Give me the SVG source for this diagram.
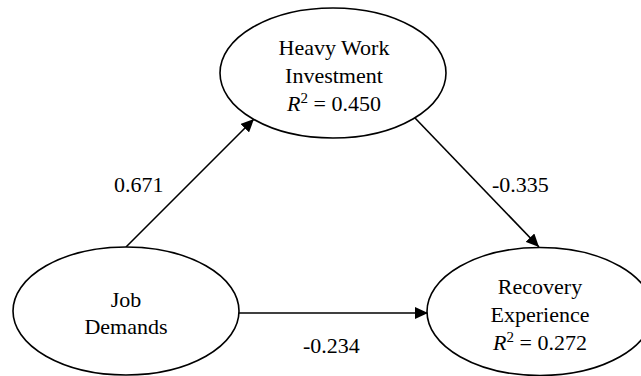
<svg xmlns="http://www.w3.org/2000/svg" width="641" height="376" viewBox="0 0 641 376">
<style>
.node ellipse{fill:#fff;stroke:#000;stroke-width:1.6}
text{font-family:'Liberation Serif','DejaVu Serif','Times New Roman',Times,serif;font-size:22px;fill:#000;text-anchor:middle}
.lbl{text-anchor:start}
.edge{stroke:#000;stroke-width:1.6;fill:none;marker-end:url(#ah)}
.it{font-style:italic}
.sup{font-size:15px}
</style>
<defs>
<marker id="ah" markerUnits="userSpaceOnUse" markerWidth="14" markerHeight="12" refX="13" refY="6" orient="auto">
<path d="M0,0 L13,6 L0,12 Z" fill="#000"/>
</marker>
</defs>
<rect width="641" height="376" fill="#fff"/>
<g id="connectors">
<line class="edge" x1="126" y1="247" x2="254" y2="119"/>
<line class="edge" x1="415" y1="118" x2="539" y2="247"/>
<line class="edge" x1="239" y1="313" x2="428" y2="313"/>
<text class="lbl" x="114" y="192">0.671</text>
<text class="lbl" x="492" y="192">-0.335</text>
<text class="lbl" x="303" y="353">-0.234</text>
</g>
<g id="hwi" class="node">
<ellipse cx="333" cy="73" rx="113" ry="65"/>
<text x="334" y="55">Heavy Work</text>
<text x="334" y="83">Investment</text>
<text x="334" y="111"><tspan class="it">R</tspan><tspan class="sup" dy="-8">2</tspan><tspan dy="8"> = 0.450</tspan></text>
</g>
<g id="jd" class="node">
<ellipse cx="126" cy="311" rx="113" ry="64"/>
<text x="126" y="307">Job</text>
<text x="126" y="334">Demands</text>
</g>
<g id="re" class="node">
<ellipse cx="540" cy="311.5" rx="113" ry="64"/>
<text x="540" y="294">Recovery</text>
<text x="540" y="322">Experience</text>
<text x="540" y="350"><tspan class="it">R</tspan><tspan class="sup" dy="-8">2</tspan><tspan dy="8"> = 0.272</tspan></text>
</g>
</svg>
